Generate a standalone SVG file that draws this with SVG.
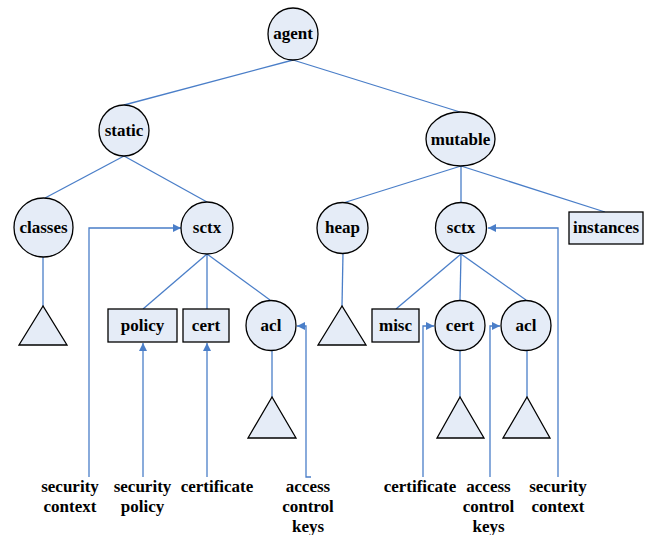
<svg xmlns="http://www.w3.org/2000/svg" width="648" height="535" viewBox="0 0 648 535">
<style>
.n{fill:#E5ECF7;stroke:#000;stroke-width:1.3}
.t{font-family:'Liberation Serif',Tinos,'Times New Roman',Times,serif;font-weight:700;font-size:17px;fill:#000;text-anchor:middle}
.c{fill:none;stroke:#4A7EC8;stroke-width:1.3}
</style>
<defs>
<marker id="ah" viewBox="0 0 8 8" refX="8" refY="4" markerWidth="8" markerHeight="8" markerUnits="userSpaceOnUse" orient="auto">
<path d="M0,0 L8,4 L0,8 Z" fill="#4A7EC8"/>
</marker>
</defs>
<rect width="648" height="535" fill="#fff"/>
<g id="connectors">
<path class="c" d="M293,60 L124,105"/>
<path class="c" d="M293,60 L460,112"/>
<path class="c" d="M124,156 L45,198"/>
<path class="c" d="M124,156 L207,202"/>
<path class="c" d="M461,166 L343,203"/>
<path class="c" d="M461,166 L461,202"/>
<path class="c" d="M461,166 L605,212"/>
<path class="c" d="M43,257 L43,306"/>
<path class="c" d="M207,254 L143,309"/>
<path class="c" d="M207,254 L207,309"/>
<path class="c" d="M207,254 L270,300"/>
<path class="c" d="M272,351 L272,397"/>
<path class="c" d="M343,253 L342,306"/>
<path class="c" d="M461,254 L396,309"/>
<path class="c" d="M461,254 L460,300"/>
<path class="c" d="M461,254 L526,300"/>
<path class="c" d="M460,351 L460,397"/>
<path class="c" d="M527,351 L527,397"/>
<path class="c" d="M89,477 L89,228 L181,228" marker-end="url(#ah)"/>
<path class="c" d="M143,477 L143,343" marker-end="url(#ah)"/>
<path class="c" d="M207,477 L207,343" marker-end="url(#ah)"/>
<path class="c" d="M311,477 L306,477 L306,326 L297,326" marker-end="url(#ah)"/>
<path class="c" d="M423,477 L423,326 L434,326" marker-end="url(#ah)"/>
<path class="c" d="M490,477 L490,326 L500,326" marker-end="url(#ah)"/>
<path class="c" d="M558,477 L558,228 L488,228" marker-end="url(#ah)"/>
</g>
<g id="agent"><ellipse class="n" cx="293" cy="34" rx="25" ry="26"/><text class="t" x="293" y="39">agent</text></g>
<g id="static"><ellipse class="n" cx="124" cy="130.5" rx="25" ry="25.5"/><text class="t" x="124" y="136">static</text></g>
<g id="mutable"><ellipse class="n" cx="460.5" cy="139" rx="34.5" ry="27"/><text class="t" x="460.5" y="145">mutable</text></g>
<g id="classes"><circle class="n" cx="43.5" cy="227.5" r="29.5"/><text class="t" x="43.5" y="233">classes</text></g>
<g id="sctx-static"><circle class="n" cx="207" cy="228" r="26"/><text class="t" x="207" y="233">sctx</text></g>
<g id="heap"><circle class="n" cx="342.5" cy="228" r="25.5"/><text class="t" x="342.5" y="233">heap</text></g>
<g id="sctx-mutable"><circle class="n" cx="461" cy="228" r="25.5"/><text class="t" x="461" y="233">sctx</text></g>
<g id="instances"><rect class="n" x="569" y="212" width="74" height="32"/><text class="t" x="606" y="233">instances</text></g>
<g id="classes-tree"><polygon class="n" points="43,306 19,345 67,345"/></g>
<g id="policy"><rect class="n" x="108" y="309" width="69" height="33"/><text class="t" x="142.5" y="331">policy</text></g>
<g id="cert-static"><rect class="n" x="183" y="309" width="46" height="33"/><text class="t" x="206" y="331">cert</text></g>
<g id="acl-static"><circle class="n" cx="271" cy="325.5" r="25"/><text class="t" x="271" y="331">acl</text></g>
<g id="acl-static-tree"><polygon class="n" points="272,397 248,438 296,438"/></g>
<g id="heap-tree"><polygon class="n" points="342,306 318,345 366,345"/></g>
<g id="misc"><rect class="n" x="372" y="309" width="47" height="33"/><text class="t" x="395.5" y="331">misc</text></g>
<g id="cert-mutable"><circle class="n" cx="460" cy="325.5" r="25"/><text class="t" x="460" y="331">cert</text></g>
<g id="acl-mutable"><circle class="n" cx="526" cy="325.5" r="25"/><text class="t" x="526" y="331">acl</text></g>
<g id="cert-mutable-tree"><polygon class="n" points="460,397 437,438 484,438"/></g>
<g id="acl-mutable-tree"><polygon class="n" points="527,397 503,438 550,438"/></g>
<g id="labels">
<text class="t" x="70" y="492">security</text><text class="t" x="70" y="512">context</text>
<text class="t" x="142.5" y="492">security</text><text class="t" x="142.5" y="512">policy</text>
<text class="t" x="217" y="492">certificate</text>
<text class="t" x="308" y="492">access</text><text class="t" x="308" y="512">control</text><text class="t" x="308" y="532">keys</text>
<text class="t" x="420" y="492">certificate</text>
<text class="t" x="488.5" y="492">access</text><text class="t" x="488.5" y="512">control</text><text class="t" x="488.5" y="532">keys</text>
<text class="t" x="558" y="492">security</text><text class="t" x="558" y="512">context</text>
</g>
</svg>
